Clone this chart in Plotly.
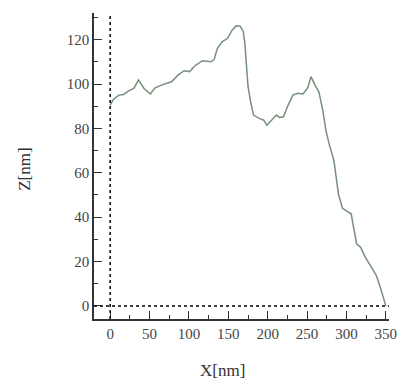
import plotly.graph_objects as go

x_nm = [0, 4, 11, 17, 24, 30, 36, 43, 51, 57, 65, 78, 86, 94, 101, 107, 117, 128, 132, 136,
        142, 149, 155, 160, 165, 169, 171, 173, 175, 178, 182, 190, 195, 199, 205, 211, 215, 220,
        226, 232, 238, 245, 251, 255, 260, 265, 270, 274, 278, 284, 290, 295, 303, 306, 309, 313,
        318, 324, 332, 338, 343, 347, 350]
z_nm = [90.5, 93, 95, 95.3, 97, 98, 101.8, 98, 95.5, 98.3, 99.5, 101, 104, 106, 105.6, 108, 110.5, 110, 111, 116,
        119, 120.6, 124.4, 126.2, 126, 123.7, 118.4, 109, 99, 92.5, 86, 84.4, 83.7, 81.4, 83.7, 86, 84.9, 85.2,
        90.5, 95, 95.8, 95.5, 98.5, 103.3, 99.5, 96.5, 88, 79, 73, 65.6, 50, 44, 42.2, 41.5, 35.4, 27.9,
        26.4, 21.9, 17.3, 13.6, 8.3, 3.8, 0]

x_ticks = [0, 50, 100, 150, 200, 250, 300, 350]
z_ticks = [0, 20, 40, 60, 80, 100, 120]

font = dict(family="Liberation Serif, Times New Roman, serif", size=15, color="#444444")
title_font = dict(family="Liberation Serif, Times New Roman, serif", size=17, color="#333333")

fig = go.Figure()
fig.add_trace(go.Scatter(x=x_nm, y=z_nm, mode="lines",
                         line=dict(color="#76907a", width=1.5), showlegend=False,
                         hoverinfo="skip"))

fig.add_shape(type="line", xref="x", yref="paper", x0=0, x1=0, y0=0, y1=1,
              line=dict(color="black", width=1.5, dash="dot"))
fig.add_shape(type="line", xref="paper", yref="y", x0=0, x1=1, y0=0, y1=0,
              line=dict(color="black", width=1.5, dash="dot"))

fig.add_annotation(text="X[nm]", xref="paper", yref="paper", x=0.435, y=-0.167,
                   xanchor="center", yanchor="middle", showarrow=False, font=title_font)
fig.add_annotation(text="Z[nm]", xref="paper", yref="paper", x=-0.238, y=0.49,
                   xanchor="center", yanchor="middle", showarrow=False, textangle=-90,
                   font=title_font)

fig.update_layout(
    width=401, height=385,
    margin=dict(l=94, r=4, t=13, b=66),
    paper_bgcolor="white", plot_bgcolor="white",
    font=font,
    xaxis=dict(range=[-20.5, 354], tickvals=x_ticks, ticktext=[str(v) for v in x_ticks],
               showline=True, linecolor="#333333", linewidth=1.5, mirror=False,
               ticks="inside", ticklen=8, tickwidth=1.2, tickcolor="#333333",
               ticklabeloverflow="allow",
               minor=dict(dtick=25, tick0=0, ticks="inside", ticklen=4, tickcolor="#333333", showgrid=False),
               showgrid=False, zeroline=False),
    yaxis=dict(range=[-5.9, 132], tickvals=z_ticks, ticktext=[str(v) for v in z_ticks],
               showline=True, linecolor="#333333", linewidth=1.5, mirror=False,
               ticks="inside", ticklen=8, tickwidth=1.2, tickcolor="#333333",
               minor=dict(dtick=10, tick0=0, ticks="inside", ticklen=4, tickcolor="#333333", showgrid=False),
               showgrid=False, zeroline=False),
)

fig.write_html("out.html")
